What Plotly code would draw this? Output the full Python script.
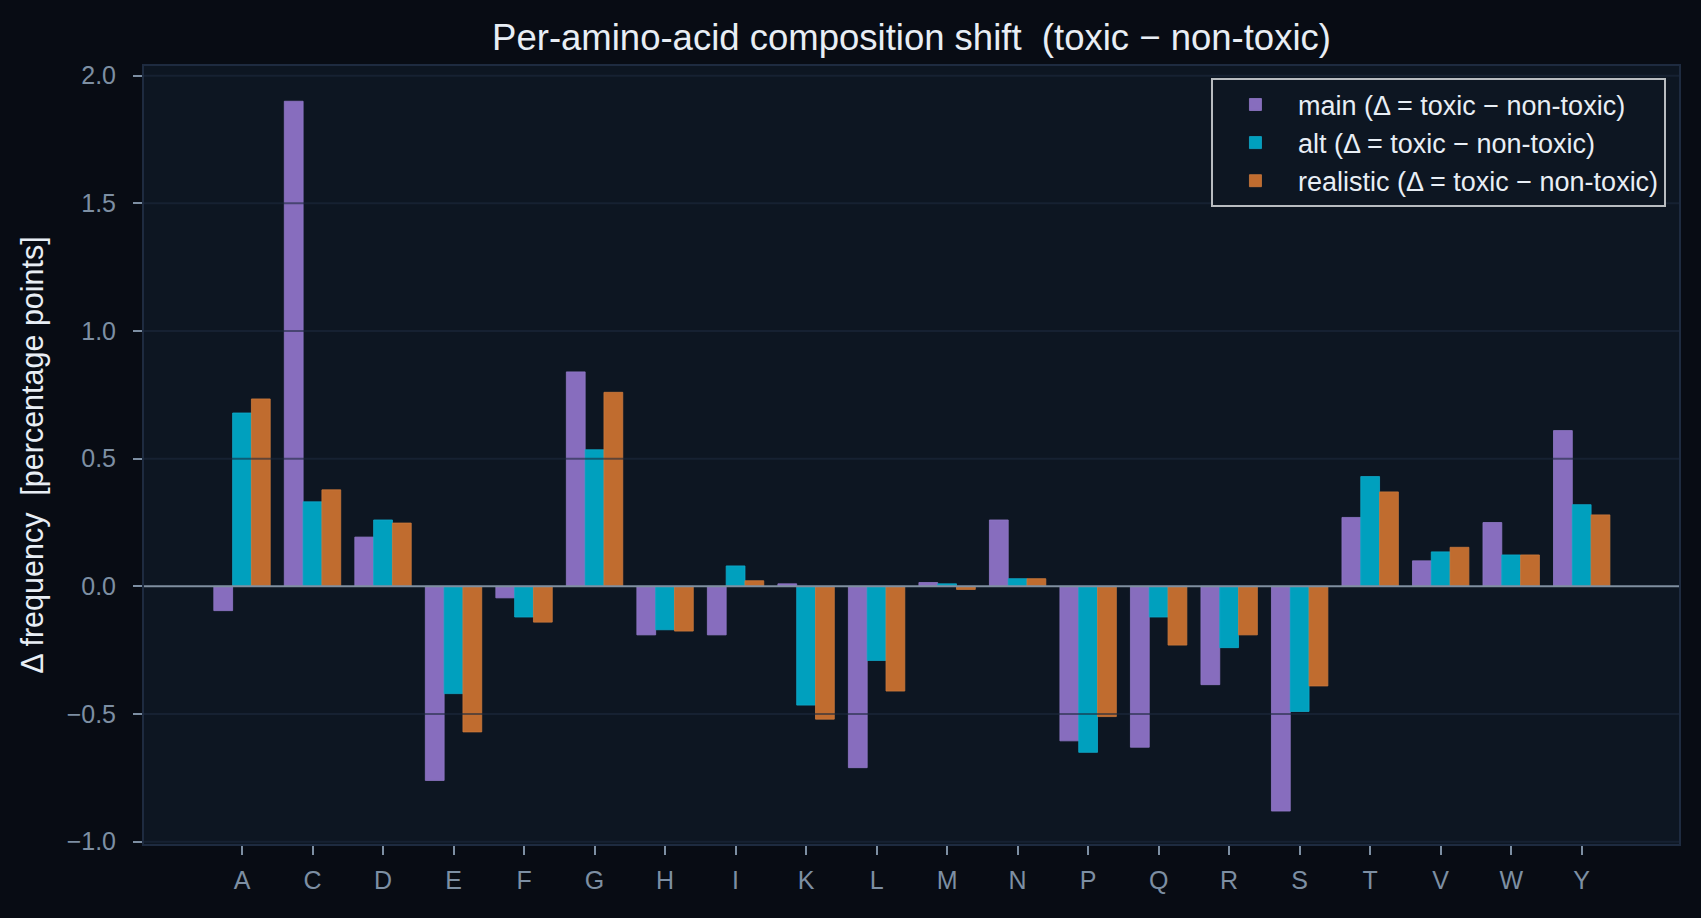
import plotly.graph_objects as go

amino_acids = ["A", "C", "D", "E", "F", "G", "H", "I", "K", "L",
               "M", "N", "P", "Q", "R", "S", "T", "V", "W", "Y"]
main_delta = [-0.095, 1.90, 0.193, -0.76, -0.045, 0.84, -0.19, -0.19, 0.01, -0.71,
              0.015, 0.26, -0.605, -0.63, -0.385, -0.88, 0.27, 0.10, 0.25, 0.61]
alt_delta = [0.679, 0.331, 0.26, -0.42, -0.12, 0.535, -0.17, 0.08, -0.465, -0.29,
             0.01, 0.03, -0.65, -0.12, -0.24, -0.49, 0.43, 0.135, 0.123, 0.32]
real_delta = [0.734, 0.378, 0.248, -0.57, -0.14, 0.76, -0.175, 0.022, -0.52, -0.41,
              -0.012, 0.03, -0.51, -0.23, -0.19, -0.39, 0.37, 0.153, 0.123, 0.28]
series_names = ["main (Δ = toxic − non-toxic)",
                "alt (Δ = toxic − non-toxic)",
                "realistic (Δ = toxic − non-toxic)"]
ytick_vals = [-1.0, -0.5, 0.0, 0.5, 1.0, 1.5, 2.0]
ytick_text = ["−1.0", "−0.5", "0.0", "0.5", "1.0", "1.5", "2.0"]

colors = ["#876dbe", "#00a0be", "#c06c2f"]
edge_colors = ["#9078c8", "#10aacb", "#cc7a3c"]

FONT = "Liberation Sans, Arial, sans-serif"
TICK_COLOR = "#7d8fa3"

fig = go.Figure()
for i, (name, vals) in enumerate(zip(series_names, [main_delta, alt_delta, real_delta])):
    fig.add_trace(go.Bar(
        x=amino_acids, y=vals, name=name,
        marker=dict(color=colors[i], line=dict(color=edge_colors[i], width=0.8)),
        legendgroup=f"g{i}",
    ))

shapes = []
for v in ytick_vals:
    if v == 0.0:
        continue
    shapes.append(dict(type="line", xref="paper", x0=0, x1=1, yref="y", y0=v, y1=v,
                       line=dict(color="rgba(28,42,62,0.6)", width=2), layer="above"))
shapes.append(dict(type="line", xref="paper", x0=0, x1=1, yref="y", y0=0, y1=0,
                   line=dict(color="#7f8fa0", width=2), layer="above"))

fig.update_layout(
    width=1701, height=918,
    paper_bgcolor="#080c14",
    plot_bgcolor="#0d1622",
    margin=dict(l=144, r=22, t=66, b=74),
    barmode="group", bargap=0.2, bargroupgap=0.0,
    font=dict(family=FONT, color=TICK_COLOR),
    title=dict(text="Per-amino-acid composition shift  (toxic − non-toxic)",
               x=0.5, xref="paper", xanchor="center",
               y=1 - 37 / 918, yanchor="middle",
               font=dict(size=36.5, color="#e8eef5", family=FONT)),
    showlegend=True,
    legend=dict(x=0.9915, xanchor="right", y=0.984, yanchor="top",
                bgcolor="#0d1622", bordercolor="#b8bcc0", borderwidth=2,
                font=dict(size=27, color="#e8eef5", family=FONT),
                itemwidth=75,
                traceorder="grouped", tracegroupgap=0),
    shapes=shapes,
)
fig.update_xaxes(
    type="category", range=[-1.39, 20.38],
    showgrid=False, zeroline=False,
    showline=True, linecolor="#1e2b40", linewidth=2, mirror=True,
    ticks="outside", ticklen=9, tickwidth=2, tickcolor=TICK_COLOR,
    ticklabelstandoff=4,
    tickfont=dict(size=25, color=TICK_COLOR, family=FONT),
)
fig.update_yaxes(
    range=[-1.009, 2.038],
    tickvals=ytick_vals, ticktext=ytick_text,
    showgrid=False, zeroline=False,
    showline=True, linecolor="#1e2b40", linewidth=2, mirror=True,
    ticks="outside", ticklen=9, tickwidth=2, tickcolor=TICK_COLOR,
    ticklabelstandoff=12,
    tickfont=dict(size=25, color=TICK_COLOR, family=FONT),
    title=dict(text="Δ frequency  [percentage points]",
               font=dict(size=30.5, color="#e8eef5", family=FONT), standoff=14),
)

fig.write_html("out.html")
